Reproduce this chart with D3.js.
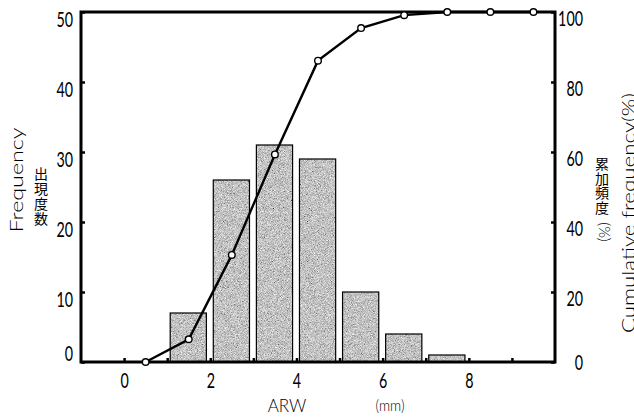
<!DOCTYPE html>
<html>
<head>
<meta charset="utf-8">
<script src="https://cdn.jsdelivr.net/npm/d3@7"></script>
<style>
  body { margin: 0; background: #fff; }
  svg { display: block; }
  text { fill: #000; }
  .tick text { font-family: Lato, "Liberation Sans", sans-serif; font-weight: 400; font-size: 21px; fill: #000; }
</style>
</head>
<body>
<div class="container"></div>
<script>
// histogram bins (ARW, mm) and counts
const binStarts = [1, 2, 3, 4, 5, 6, 7];
const counts = [7, 26, 31, 29, 10, 4, 1];

// cumulative frequency (%) at bin midpoints
const cumX = [0.5, 1.5, 2.5, 3.5, 4.5, 5.5, 6.5, 7.5, 8.5, 9.5];
const cumPct = [0, 6.5, 30.6, 59.3, 86.1, 95.4, 99.1, 100, 100, 100];

const xTicks = [0, 1, 2, 3, 4, 5, 6, 7, 8, 9];
const leftTicks = [0, 10, 20, 30, 40, 50];
const rightTicks = [0, 20, 40, 60, 80, 100];

const width = 634;
const height = 417;
const margin = { top: 12, right: 79, bottom: 55, left: 81 };

let svg = d3.select(".container").append("svg")
  .attr("width", width).attr("height", height);

// grainy grey fill like the printed bars
let defs = svg.append("defs");
let grain = defs.append("filter").attr("id", "grain")
  .attr("x", 0).attr("y", 0).attr("width", 1).attr("height", 1);
grain.append("feTurbulence").attr("type", "fractalNoise")
  .attr("baseFrequency", 1.3).attr("numOctaves", 2).attr("seed", 4);
grain.append("feColorMatrix").attr("type", "matrix")
  .attr("values", "0.33 0.33 0.33 0 0  0.33 0.33 0.33 0 0  0.33 0.33 0.33 0 0  0 0 0 0 1");
let ct = grain.append("feComponentTransfer");
["feFuncR", "feFuncG", "feFuncB"].forEach(f =>
  ct.append(f).attr("type", "linear").attr("slope", 1.8).attr("intercept", -0.35));
grain.append("feComposite").attr("in2", "SourceGraphic").attr("operator", "in");

const xScale = d3.scaleLinear([-1, 10], [margin.left, width - margin.right]);
const yLeft = d3.scaleLinear([0, 50], [height - margin.bottom, margin.top]);
const yRight = d3.scaleLinear([0, 100], [height - margin.bottom, margin.top]);

// bars
let gBars = svg.append("g");
gBars.selectAll("rect.fill")
  .data(binStarts).enter().append("rect")
  .attr("class", "fill")
  .attr("x", d => xScale(d + 0.07))
  .attr("width", d => xScale(d + 0.91) - xScale(d + 0.07))
  .attr("y", (d, i) => yLeft(counts[i]))
  .attr("height", (d, i) => yLeft(0) - yLeft(counts[i]))
  .attr("fill", "#999")
  .attr("filter", "url(#grain)");
gBars.selectAll("rect.edge")
  .data(binStarts).enter().append("rect")
  .attr("class", "edge")
  .attr("x", d => xScale(d + 0.07))
  .attr("width", d => xScale(d + 0.91) - xScale(d + 0.07))
  .attr("y", (d, i) => yLeft(counts[i]))
  .attr("height", (d, i) => yLeft(0) - yLeft(counts[i]))
  .attr("fill", "none")
  .attr("stroke", "#000")
  .attr("stroke-width", 1.2);

// condensed look for tick numbers
function narrow(sel) {
  sel.each(function () {
    const t = d3.select(this).text();
    if (t) d3.select(this).attr("textLength", t.length * 8.3).attr("lengthAdjust", "spacingAndGlyphs");
  });
}

// axes
let xAxis = d3.axisBottom(xScale).tickValues(xTicks)
  .tickSizeInner(-4).tickSizeOuter(0).tickPadding(8)
  .tickFormat(d => d % 2 === 0 ? d : "");
let gx = svg.append("g").attr("transform", `translate(0, ${yLeft(0)})`).call(xAxis);
gx.selectAll("text").attr("dy", "0.85em").call(narrow);

let yAxisL = d3.axisLeft(yLeft).tickValues(leftTicks)
  .tickSizeInner(-4).tickSizeOuter(0).tickPadding(8);
let gyl = svg.append("g").attr("transform", `translate(${margin.left}, 0)`).call(yAxisL);
gyl.selectAll("text").attr("dy", d => d === 0 ? "-0.05em" : "0.7em").call(narrow);

let yAxisR = d3.axisRight(yRight).tickValues(rightTicks)
  .tickSizeInner(-4).tickSizeOuter(0).tickPadding(8);
let gyr = svg.append("g").attr("transform", `translate(${width - margin.right}, 0)`).call(yAxisR);
gyr.selectAll("text").attr("text-anchor", "end").attr("x", 28)
  .attr("dy", d => d === 0 ? "0.35em" : "0.65em").call(narrow);

svg.selectAll(".domain").remove();
svg.selectAll(".tick line").attr("stroke", "#000").attr("stroke-width", 2.5);

// frame
svg.append("rect")
  .attr("x", margin.left).attr("y", margin.top)
  .attr("width", width - margin.left - margin.right)
  .attr("height", height - margin.top - margin.bottom)
  .attr("fill", "none").attr("stroke", "#000").attr("stroke-width", 3);

// cumulative line
let line = d3.line().x((d, i) => xScale(cumX[i])).y(d => yRight(d));
svg.append("path").datum(cumPct)
  .attr("d", line).attr("fill", "none")
  .attr("stroke", "#000").attr("stroke-width", 2.4);
svg.selectAll("circle.pt")
  .data(cumPct).enter().append("circle")
  .attr("class", "pt")
  .attr("cx", (d, i) => xScale(cumX[i]))
  .attr("cy", d => yRight(d))
  .attr("r", 3.3)
  .attr("fill", "#fff").attr("stroke", "#000").attr("stroke-width", 1.4);

// titles
const latin = "Lato, 'Liberation Sans', sans-serif";
const cjk = "'Noto Sans CJK JP', sans-serif";

svg.append("text")
  .attr("transform", "translate(23, 180) rotate(-90)")
  .attr("text-anchor", "middle")
  .attr("font-family", latin).attr("font-weight", 300).attr("font-size", 17)
  .attr("textLength", 105).attr("lengthAdjust", "spacingAndGlyphs")
  .text("Frequency");

svg.append("text")
  .attr("transform", "translate(635, 213) rotate(-90)")
  .attr("text-anchor", "middle")
  .attr("font-family", latin).attr("font-weight", 300).attr("font-size", 17)
  .attr("textLength", 240).attr("lengthAdjust", "spacingAndGlyphs")
  .text("Cumulative frequency(%)");

function vertical(str, x, y0, spacing) {
  svg.append("text")
    .attr("x", x).attr("y", y0)
    .style("writing-mode", "vertical-rl")
    .attr("letter-spacing", spacing)
    .attr("font-family", cjk).attr("font-size", 14)
    .text(str);
}
vertical("出現度数", 41, 167, 1);
vertical("累加頻度", 602, 157, 0.5);

svg.append("text")
  .attr("transform", "translate(605, 232) rotate(90)")
  .attr("text-anchor", "middle").attr("dominant-baseline", "central")
  .attr("font-family", latin).attr("font-weight", 300).attr("font-size", 15)
  .text("(%)");

svg.append("text")
  .attr("x", 287).attr("y", 412)
  .attr("text-anchor", "middle")
  .attr("font-family", latin).attr("font-weight", 300).attr("font-size", 17)
  .text("ARW");

svg.append("text")
  .attr("x", 390).attr("y", 411)
  .attr("text-anchor", "middle")
  .attr("font-family", latin).attr("font-weight", 300).attr("font-size", 15)
  .attr("textLength", 29).attr("lengthAdjust", "spacingAndGlyphs")
  .text("(mm)");
</script>
</body>
</html>
